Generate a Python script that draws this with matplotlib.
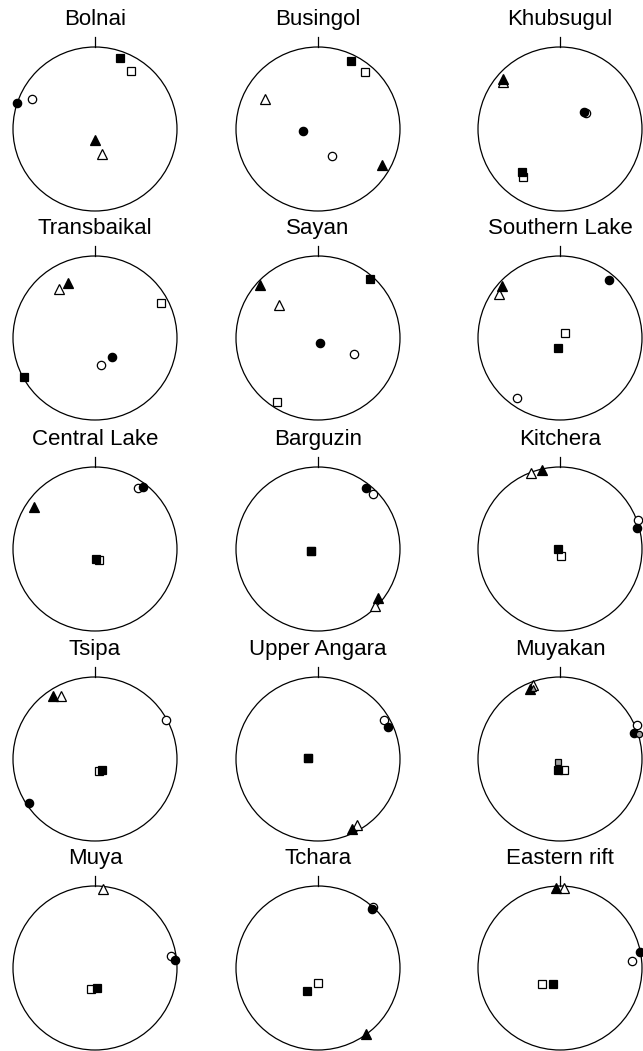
import numpy as np
import matplotlib
matplotlib.use("Agg")
import matplotlib.pyplot as plt
from matplotlib.patches import Circle

plt.rcParams['font.family'] = ['Liberation Sans', 'DejaVu Sans']

# Sites, in reading order (3 columns x 5 rows)
sites = ['Bolnai', 'Busingol', 'Khubsugul',
         'Transbaikal', 'Sayan', 'Southern Lake',
         'Central Lake', 'Barguzin', 'Kitchera',
         'Tsipa', 'Upper Angara', 'Muyakan',
         'Muya', 'Tchara', 'Eastern rift']

nan = np.nan
# positions on the unit circle (x east, y north), one per site
filled_sq = [(0.30, 0.86), (0.40, 0.83), (-0.46, -0.52), (-0.87, -0.48), (0.64, 0.72),
             (-0.02, -0.12), (0.01, -0.12), (-0.08, -0.02), (-0.02, 0.00), (0.09, -0.14),
             (-0.12, 0.01), (-0.03, -0.14), (0.02, -0.24), (-0.14, -0.28), (-0.08, -0.20)]
open_sq = [(0.44, 0.71), (0.57, 0.70), (-0.45, -0.59), (0.81, 0.43), (-0.50, -0.78),
           (0.06, 0.06), (0.05, -0.13), (-0.08, -0.02), (0.01, -0.08), (0.05, -0.15),
           (-0.12, 0.01), (0.05, -0.13), (-0.05, -0.26), (0.00, -0.18), (-0.22, -0.20)]
filled_ci = [(-0.95, 0.32), (-0.18, -0.02), (0.29, 0.21), (0.21, -0.23), (0.02, -0.06),
             (0.60, 0.71), (0.59, 0.76), (0.59, 0.74), (0.94, 0.26), (-0.81, -0.54),
             (0.85, 0.39), (0.90, 0.32), (0.97, 0.10), (0.66, 0.72), (0.98, 0.20)]
open_ci = [(-0.77, 0.37), (0.17, -0.33), (0.32, 0.19), (0.07, -0.33), (0.44, -0.19),
           (-0.52, -0.73), (0.53, 0.74), (0.67, 0.67), (0.95, 0.35), (0.86, 0.47),
           (0.81, 0.48), (0.94, 0.41), (0.93, 0.15), (0.67, 0.74), (0.88, 0.08)]
filled_tr = [(0.00, -0.14), (0.78, -0.44), (-0.70, 0.61), (-0.33, 0.67), (-0.71, 0.65),
             (-0.71, 0.64), (-0.75, 0.51), (0.73, -0.60), (-0.22, 0.96), (-0.51, 0.77),
             (0.41, -0.85), (-0.36, 0.85), (nan, nan), (0.58, -0.80), (-0.05, 0.98)]
open_tr = [(0.08, -0.30), (-0.65, 0.37), (-0.69, 0.57), (-0.44, 0.60), (-0.48, 0.40),
           (-0.74, 0.54), (nan, nan), (0.69, -0.70), (-0.35, 0.93), (-0.41, 0.77),
           (0.47, -0.81), (-0.33, 0.90), (0.10, 0.96), (nan, nan), (0.05, 0.98)]
# shaded symbols only in Muyakan
shaded = {'Muyakan': {'o': (0.96, 0.31), 's': (-0.03, -0.04), '^': (-0.33, 0.86)}}

# layout in pixels
W, H = 643, 1051
col_x = [95, 318, 560]
row_y = [129, 338, 549, 759, 968]
R = 82
half = 1.45

fig = plt.figure(figsize=(W / 100, H / 100), dpi=100)

for i, site in enumerate(sites):
    cx = col_x[i % 3]
    cy = row_y[i // 3]
    h = half * R
    ax = fig.add_axes([(cx - h) / W, (H - cy - h) / H, 2 * h / W, 2 * h / H])
    ax.set_xlim(-half, half)
    ax.set_ylim(-half, half)
    ax.axis('off')

    ax.add_patch(Circle((0, 0), 1, fill=False, ec='black', lw=0.9))
    ax.plot([0, 0], [1, 1.12], color='black', lw=0.9)
    ax.text(0, 1.33, site, ha='center', va='center', fontsize=16)

    def mk(pt, m, fc, size):
        ax.plot(pt[0], pt[1], marker=m, ms=size, mfc=fc, mec='black', mew=0.9,
                linestyle='none', clip_on=False)

    mk(open_sq[i], 's', 'white', 5.5)
    mk(filled_sq[i], 's', 'black', 5.5)
    mk(open_ci[i], 'o', 'white', 6)
    mk(filled_ci[i], 'o', 'black', 6)
    mk(open_tr[i], '^', 'white', 7.5)
    mk(filled_tr[i], '^', 'black', 7.5)
    if site in shaded:
        for m, pt in shaded[site].items():
            mk(pt, m, '#a0a0a0', 4.5 if m != '^' else 5)

fig.savefig('out.png', dpi=100)
